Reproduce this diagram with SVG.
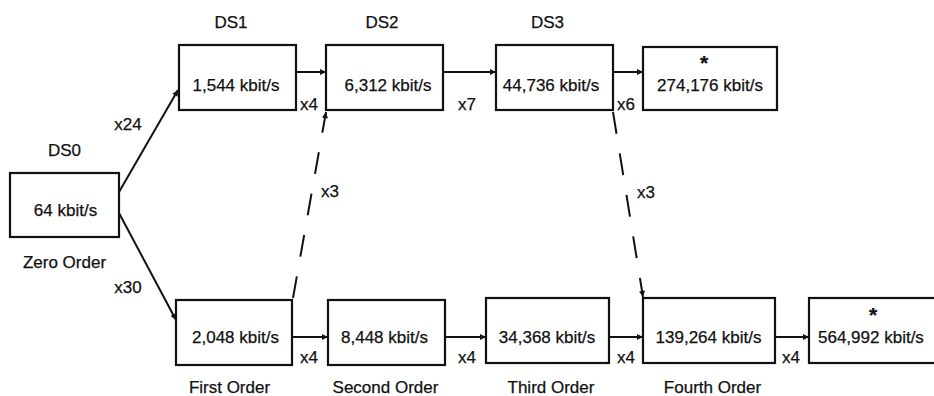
<svg xmlns="http://www.w3.org/2000/svg" width="934" height="396" viewBox="0 0 934 396">
<defs>
<marker id="ah" viewBox="0 0 10 10" refX="10" refY="5" markerWidth="8" markerHeight="6" markerUnits="userSpaceOnUse" orient="auto">
<path d="M0,0 L10,5 L0,10 z" fill="#111"/>
</marker>
</defs>
<style>
text{font-family:"Liberation Sans",Arial,sans-serif;font-size:17px;fill:#111;stroke:#111;stroke-width:0.25}
.m{text-anchor:middle}
.star{font-size:21px;font-weight:bold}
.box{fill:#fff;stroke:#111;stroke-width:2.2}
.c{stroke:#111;stroke-width:2;fill:none;marker-end:url(#ah)}
.d{stroke:#111;stroke-width:2;fill:none;stroke-dasharray:22 20;marker-end:url(#ah)}
</style>
<rect width="934" height="396" fill="#fff"/>
<g id="connectors">
<line class="c" x1="119" y1="192" x2="178" y2="90"/>
<line class="c" x1="119" y1="213" x2="176" y2="320"/>
<line class="c" x1="296" y1="72" x2="326" y2="72"/>
<line class="c" x1="443" y1="72" x2="496" y2="72"/>
<line class="c" x1="613" y1="72" x2="643" y2="72"/>
<line class="c" x1="292" y1="337" x2="328" y2="337"/>
<line class="c" x1="445" y1="337" x2="486" y2="337"/>
<line class="c" x1="609" y1="337" x2="643" y2="337"/>
<line class="c" x1="775" y1="337" x2="809" y2="337"/>
<line class="d" x1="293" y1="298" x2="326" y2="112"/>
<line class="d" x1="613" y1="112" x2="643" y2="297"/>
<text x="128" y="130" class="m">x24</text>
<text x="128" y="293" class="m">x30</text>
<text x="309" y="110" class="m">x4</text>
<text x="467" y="110" class="m">x7</text>
<text x="626" y="110" class="m">x6</text>
<text x="309" y="363" class="m">x4</text>
<text x="467" y="363" class="m">x4</text>
<text x="626" y="363" class="m">x4</text>
<text x="791" y="363" class="m">x4</text>
<text x="330" y="197" class="m">x3</text>
<text x="646" y="198" class="m">x3</text>
</g>
<g id="ds0">
<text x="64.5" y="156" class="m">DS0</text>
<rect class="box" x="10" y="173" width="109" height="64"/>
<text x="65.5" y="216" class="m">64 kbit/s</text>
<text x="64.5" y="268" class="m">Zero Order</text>
</g>
<g id="ds1">
<text x="231" y="28" class="m">DS1</text>
<rect class="box" x="179" y="45" width="117" height="65"/>
<text x="236" y="91" class="m">1,544 kbit/s</text>
</g>
<g id="ds2">
<text x="382" y="28" class="m">DS2</text>
<rect class="box" x="326" y="45" width="117" height="65"/>
<text x="388" y="91" class="m">6,312 kbit/s</text>
</g>
<g id="ds3">
<text x="547.5" y="28" class="m">DS3</text>
<rect class="box" x="496" y="45" width="117" height="65"/>
<text x="551" y="91" class="m">44,736 kbit/s</text>
</g>
<g id="na4">
<rect class="box" x="643" y="47" width="134" height="63"/>
<text x="704" y="70" class="m star">*</text>
<text x="710" y="91" class="m">274,176 kbit/s</text>
</g>
<g id="e1">
<rect class="box" x="176" y="300" width="116" height="65"/>
<text x="235.5" y="343" class="m">2,048 kbit/s</text>
<text x="229.5" y="393" class="m">First Order</text>
</g>
<g id="e2">
<rect class="box" x="328" y="300" width="117" height="65"/>
<text x="384.5" y="343" class="m">8,448 kbit/s</text>
<text x="385.5" y="393" class="m">Second Order</text>
</g>
<g id="e3">
<rect class="box" x="486" y="298" width="123" height="65"/>
<text x="547" y="343" class="m">34,368 kbit/s</text>
<text x="551" y="393" class="m">Third Order</text>
</g>
<g id="e4">
<rect class="box" x="643" y="298" width="132" height="65"/>
<text x="708.5" y="343" class="m">139,264 kbit/s</text>
<text x="712.5" y="393" class="m">Fourth Order</text>
</g>
<g id="e5">
<rect class="box" x="809" y="298" width="140" height="65"/>
<text x="873" y="322" class="m star">*</text>
<text x="818" y="343">564,992 kbit/s</text>
</g>
</svg>
